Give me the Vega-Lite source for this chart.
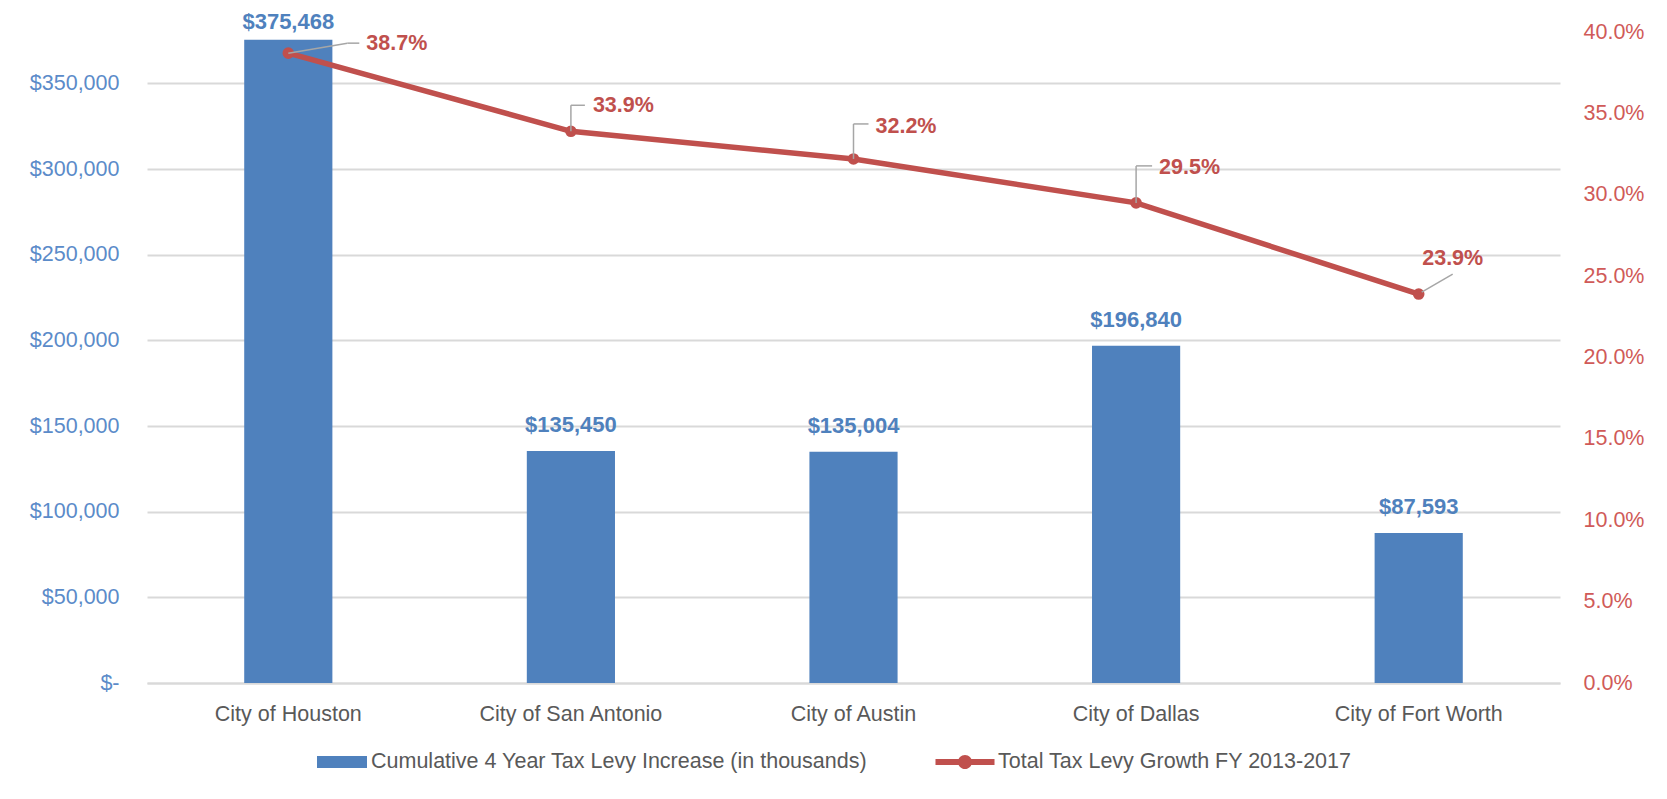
{
  "$schema": "https://vega.github.io/schema/vega-lite/v6.json",
  "width": 1413,
  "height": 651,
  "autosize": {"type": "none"},
  "padding": {"left": 147, "top": 32, "right": 107, "bottom": 116},
  "background": "white",
  "config": {
    "font": "Liberation Sans",
    "view": {"stroke": null},
    "legend": {"layout": {"bottom": {"anchor": "middle", "margin": 70}}}
  },
  "data": {
    "values": [
      {"city": "City of Houston", "levy": 375468, "growth": 0.387},
      {"city": "City of San Antonio", "levy": 135450, "growth": 0.339},
      {"city": "City of Austin", "levy": 135004, "growth": 0.322},
      {"city": "City of Dallas", "levy": 196840, "growth": 0.295},
      {"city": "City of Fort Worth", "levy": 87593, "growth": 0.239}
    ]
  },
  "encoding": {
    "x": {
      "field": "city",
      "type": "nominal",
      "sort": null,
      "scale": {"paddingInner": 0, "paddingOuter": 0},
      "axis": {
        "title": null,
        "labelAngle": 0,
        "labelFontSize": 21.5,
        "labelColor": "#595959",
        "labelPadding": 20,
        "labelLimit": 400,
        "ticks": false,
        "tickSize": 0,
        "domainColor": "#D9D9D9",
        "domainWidth": 2,
        "grid": false
      }
    }
  },
  "layer": [
    {
      "encoding": {
        "y": {
          "field": "levy",
          "type": "quantitative",
          "scale": {"domain": [0, 380000], "nice": false},
          "axis": {
            "title": null,
            "values": [0, 50000, 100000, 150000, 200000, 250000, 300000, 350000],
            "labelExpr": "datum.value === 0 ? '$-\u00a0\u00a0' : '$' + format(datum.value, ',')",
            "labelFontSize": 21.5,
            "labelColor": "#5B8BC9",
            "labelPadding": 28,
            "ticks": false,
            "tickSize": 0,
            "domain": false,
            "grid": true,
            "gridColor": "#D9D9D9",
            "gridWidth": 2
          }
        }
      },
      "layer": [
        {
          "mark": {"type": "bar", "width": {"band": 0.312}},
          "encoding": {
            "fill": {
              "datum": "Cumulative 4 Year Tax Levy Increase (in thousands)",
              "type": "nominal",
              "scale": {"range": ["#4F81BD"]},
              "legend": {
                "title": null,
                "orient": "bottom",
                "direction": "horizontal",
                "offset": 10,
                "padding": 0,
                "symbolType": "M-0.926,-0.222L0.926,-0.222L0.926,0.222L-0.926,0.222Z",
                "symbolSize": 2916,
                "symbolStrokeWidth": 0,
                "labelFontSize": 21.5,
                "labelColor": "#595959",
                "labelOffset": 2,
                "labelLimit": 800
              }
            }
          }
        },
        {
          "transform": [{"filter": "datum.city != 'City of Houston'"}],
          "mark": {"type": "text", "baseline": "alphabetic", "dy": -19, "fontWeight": "bold", "fontSize": 22, "color": "#4F81BD"},
          "encoding": {"text": {"field": "levy", "type": "quantitative", "format": "$,.0f"}}
        },
        {
          "transform": [{"filter": "datum.city == 'City of Houston'"}],
          "mark": {"type": "text", "baseline": "alphabetic", "dy": -11, "fontWeight": "bold", "fontSize": 22, "color": "#4F81BD"},
          "encoding": {"text": {"field": "levy", "type": "quantitative", "format": "$,.0f"}}
        }
      ]
    },
    {
      "encoding": {
        "y": {
          "field": "growth",
          "type": "quantitative",
          "scale": {"domain": [0, 0.4], "nice": false},
          "axis": {
            "orient": "right",
            "title": null,
            "values": [0, 0.05, 0.1, 0.15, 0.2, 0.25, 0.3, 0.35, 0.4],
            "format": ".1%",
            "labelFontSize": 21.5,
            "labelColor": "#D05A58",
            "labelPadding": 23,
            "ticks": false,
            "tickSize": 0,
            "domain": false,
            "grid": false
          }
        }
      },
      "layer": [
        {
          "mark": {"type": "line", "strokeWidth": 5.5},
          "encoding": {
            "stroke": {
              "datum": "Total Tax Levy Growth FY 2013-2017",
              "type": "nominal",
              "scale": {"range": ["#C0504D"]},
              "legend": {
                "title": "\u00a0",
                "titleOrient": "right",
                "titlePadding": 40,
                "titleFontSize": 1,
                "orient": "bottom",
                "direction": "horizontal",
                "offset": 10,
                "padding": 0,
                "symbolType": "M-1.093,-0.111L1.093,-0.111L1.093,0.111L-1.093,0.111Z M0.26,0A0.26,0.26 0 1,1 -0.26,0A0.26,0.26 0 1,1 0.26,0Z",
                "symbolSize": 2916,
                "symbolFillColor": "#C0504D",
                "symbolStrokeWidth": 0,
                "labelFontSize": 21.5,
                "labelColor": "#595959",
                "labelOffset": 6,
                "labelLimit": 800
              }
            }
          }
        },
        {
          "mark": {"type": "point", "filled": true, "size": 135, "color": "#C0504D", "opacity": 1}
        },
        {
          "transform": [{"filter": "datum.city == 'City of Houston'"}],
          "mark": {"type": "rule", "color": "#A6A6A6", "strokeWidth": 1.5, "x2Offset": 59, "y2Offset": -10},
          "encoding": {"x2": {"field": "city", "bandPosition": 0.5}, "y2": {"field": "growth"}}
        },
        {
          "transform": [{"filter": "datum.city == 'City of Houston'"}],
          "mark": {"type": "rule", "color": "#A6A6A6", "strokeWidth": 1.5, "xOffset": 59, "yOffset": -10, "x2Offset": 71, "y2Offset": -10},
          "encoding": {"x2": {"field": "city", "bandPosition": 0.5}, "y2": {"field": "growth"}}
        },
        {
          "transform": [{"filter": "datum.city == 'City of San Antonio'"}],
          "mark": {"type": "rule", "color": "#A6A6A6", "strokeWidth": 1.5, "y2Offset": -26},
          "encoding": {"x2": {"field": "city", "bandPosition": 0.5}, "y2": {"field": "growth"}}
        },
        {
          "transform": [{"filter": "datum.city == 'City of San Antonio'"}],
          "mark": {"type": "rule", "color": "#A6A6A6", "strokeWidth": 1.5, "yOffset": -26, "x2Offset": 14, "y2Offset": -26},
          "encoding": {"x2": {"field": "city", "bandPosition": 0.5}, "y2": {"field": "growth"}}
        },
        {
          "transform": [{"filter": "datum.city == 'City of Austin'"}],
          "mark": {"type": "rule", "color": "#A6A6A6", "strokeWidth": 1.5, "y2Offset": -35},
          "encoding": {"x2": {"field": "city", "bandPosition": 0.5}, "y2": {"field": "growth"}}
        },
        {
          "transform": [{"filter": "datum.city == 'City of Austin'"}],
          "mark": {"type": "rule", "color": "#A6A6A6", "strokeWidth": 1.5, "yOffset": -35, "x2Offset": 15, "y2Offset": -35},
          "encoding": {"x2": {"field": "city", "bandPosition": 0.5}, "y2": {"field": "growth"}}
        },
        {
          "transform": [{"filter": "datum.city == 'City of Dallas'"}],
          "mark": {"type": "rule", "color": "#A6A6A6", "strokeWidth": 1.5, "y2Offset": -37},
          "encoding": {"x2": {"field": "city", "bandPosition": 0.5}, "y2": {"field": "growth"}}
        },
        {
          "transform": [{"filter": "datum.city == 'City of Dallas'"}],
          "mark": {"type": "rule", "color": "#A6A6A6", "strokeWidth": 1.5, "yOffset": -37, "x2Offset": 16, "y2Offset": -37},
          "encoding": {"x2": {"field": "city", "bandPosition": 0.5}, "y2": {"field": "growth"}}
        },
        {
          "transform": [{"filter": "datum.city == 'City of Fort Worth'"}],
          "mark": {"type": "rule", "color": "#A6A6A6", "strokeWidth": 1.5, "xOffset": 3, "yOffset": -2, "x2Offset": 34, "y2Offset": -20},
          "encoding": {"x2": {"field": "city", "bandPosition": 0.5}, "y2": {"field": "growth"}}
        },
        {
          "transform": [{"filter": "datum.city == 'City of Houston'"}],
          "mark": {"type": "text", "align": "left", "baseline": "middle", "dx": 78, "dy": -9, "fontWeight": "bold", "fontSize": 21.5, "color": "#C0504D"},
          "encoding": {"text": {"field": "growth", "type": "quantitative", "format": ".1%"}}
        },
        {
          "transform": [{"filter": "datum.city == 'City of San Antonio'"}],
          "mark": {"type": "text", "align": "left", "baseline": "middle", "dx": 22, "dy": -25, "fontWeight": "bold", "fontSize": 21.5, "color": "#C0504D"},
          "encoding": {"text": {"field": "growth", "type": "quantitative", "format": ".1%"}}
        },
        {
          "transform": [{"filter": "datum.city == 'City of Austin'"}],
          "mark": {"type": "text", "align": "left", "baseline": "middle", "dx": 22, "dy": -32, "fontWeight": "bold", "fontSize": 21.5, "color": "#C0504D"},
          "encoding": {"text": {"field": "growth", "type": "quantitative", "format": ".1%"}}
        },
        {
          "transform": [{"filter": "datum.city == 'City of Dallas'"}],
          "mark": {"type": "text", "align": "left", "baseline": "middle", "dx": 23, "dy": -35, "fontWeight": "bold", "fontSize": 21.5, "color": "#C0504D"},
          "encoding": {"text": {"field": "growth", "type": "quantitative", "format": ".1%"}}
        },
        {
          "transform": [{"filter": "datum.city == 'City of Fort Worth'"}],
          "mark": {"type": "text", "align": "center", "baseline": "middle", "dx": 34, "dy": -35, "fontWeight": "bold", "fontSize": 21.5, "color": "#C0504D"},
          "encoding": {"text": {"field": "growth", "type": "quantitative", "format": ".1%"}}
        }
      ]
    }
  ],
  "resolve": {"scale": {"y": "independent"}}
}
